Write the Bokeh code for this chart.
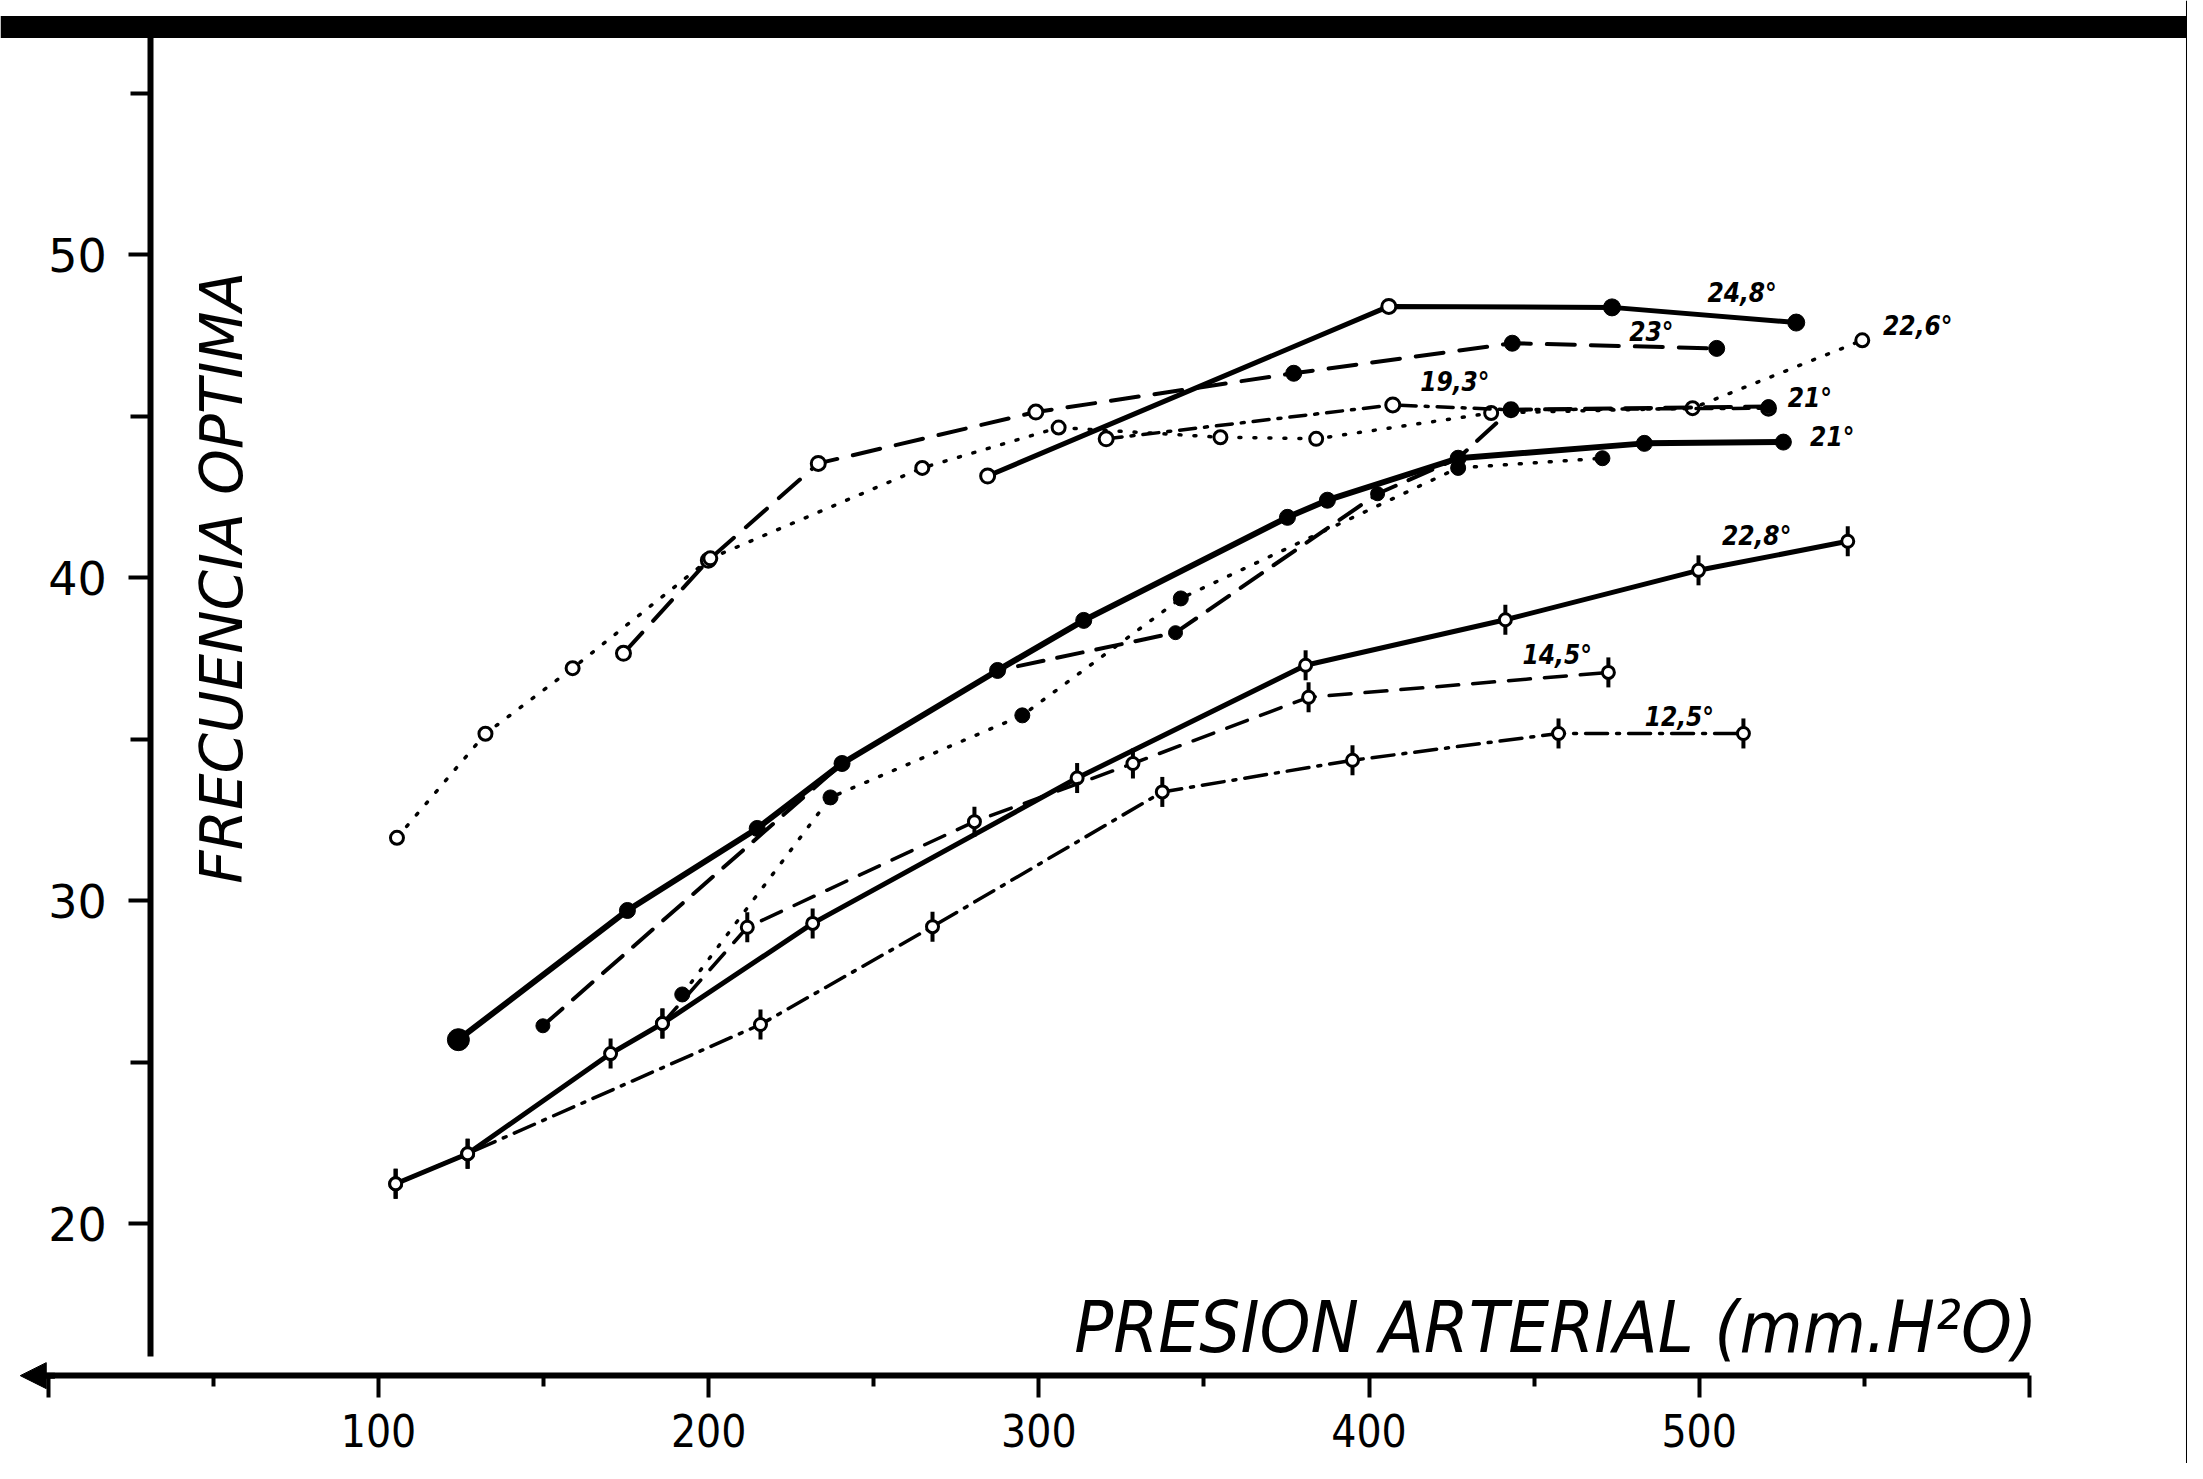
from bokeh.plotting import figure
from bokeh.models import (Range1d, LinearAxis, FixedTicker, Label, Span, Arrow,
                          NormalHead, ColumnDataSource)
from bokeh.embed import file_html
from bokeh.resources import INLINE
from bokeh.core.properties import value

# ---------------- data ----------------
x_ticks_major = [0, 100, 200, 300, 400, 500, 600]
x_ticks_minor = [50, 150, 250, 350, 450, 550]
y_ticks_major = [20, 30, 40, 50]
y_ticks_minor = [25, 35, 45, 55]

s248_x = [284.5, 406.0, 473.6, 529.4]
s248_y = [43.15, 48.40, 48.37, 47.90]

s23_x = [174.2, 199.9, 233.2, 299.1, 377.2, 443.4, 505.3]
s23_y = [37.66, 40.54, 43.54, 45.13, 46.33, 47.26, 47.10]

s226_x = [105.6, 132.4, 158.8, 200.5, 264.7, 306.0, 355.0, 384.0, 437.0, 498.0, 549.4]
s226_y = [31.95, 35.17, 37.20, 40.60, 43.40, 44.65, 44.35, 44.30, 45.10, 45.25, 47.35]

s193_x = [320.4, 407.2, 443.0, 521.0]
s193_y = [44.30, 45.35, 45.20, 45.25]

s21a_x = [149.8, 240.4, 287.5, 341.4, 402.6, 427.0, 443.0, 521.0]
s21a_y = [26.13, 34.25, 37.13, 38.30, 42.60, 43.70, 45.20, 45.30]

s21b_x = [124.2, 175.4, 214.7, 240.4, 287.5, 313.6, 375.3, 387.4, 427.0, 483.4, 525.5]
s21b_y = [25.70, 29.70, 32.24, 34.25, 37.13, 38.68, 41.87, 42.40, 43.70, 44.16, 44.20]

sdot_x = [192.0, 236.9, 295.0, 343.0, 427.0, 470.7]
sdot_y = [27.10, 33.20, 35.74, 39.36, 43.40, 43.70]

s228_x = [105.2, 127.0, 170.3, 186.0, 231.5, 311.6, 380.8, 441.3, 499.8, 545.0]
s228_y = [21.24, 22.17, 25.27, 26.20, 29.30, 33.80, 37.29, 38.70, 40.23, 41.13]

s145_x = [186.0, 211.7, 280.5, 328.5, 381.7, 472.5]
s145_y = [26.20, 29.18, 32.45, 34.25, 36.30, 37.07]

s125_x = [105.2, 127.0, 215.7, 267.8, 337.4, 395.0, 457.4, 513.4]
s125_y = [21.24, 22.17, 26.17, 29.20, 33.37, 34.35, 35.18, 35.18]

series_labels = ["24,8°", "23°", "22,6°", "19,3°", "21°", "21°", "22,8°", "14,5°", "12,5°"]
label_x = [513.0, 485.5, 555.7, 426.0, 526.8, 533.6, 517.4, 457.0, 494.0]
label_y = [48.80, 47.60, 47.80, 46.05, 45.55, 44.35, 41.30, 37.60, 35.70]
label_align = ["center", "center", "left", "center", "left", "left", "center", "center", "center"]

x_title = "PRESION ARTERIAL (mm.H²O)"
y_title = "FRECUENCIA OPTIMA"

# ---------------- figure ----------------
p = figure(width=2187, height=1463, x_range=Range1d(-14.48, 647.9),
           y_range=Range1d(12.58, 57.87), output_backend="svg",
           toolbar_location=None, x_axis_location=None, y_axis_location=None,
           min_border=0, min_border_left=0, min_border_right=0,
           min_border_top=0, min_border_bottom=0)
p.outline_line_color = None
p.background_fill_color = "white"
p.border_fill_color = "white"
p.xgrid.visible = False
p.ygrid.visible = False
for g in p.grid:
    g.visible = False

X_AXIS_AT = 15.3
Y_AXIS_AT = 31.0

xaxis = LinearAxis(fixed_location=X_AXIS_AT, bounds=(-6, 600),
                   ticker=FixedTicker(ticks=x_ticks_major, minor_ticks=x_ticks_minor))
xaxis.axis_line_width = 6
xaxis.axis_line_color = "black"
xaxis.major_tick_line_width = 4
xaxis.minor_tick_line_width = 4
xaxis.major_tick_out = 22
xaxis.major_tick_in = 0
xaxis.minor_tick_out = 11
xaxis.minor_tick_in = 0
xaxis.major_label_overrides = {0: "", 600: ""}
xaxis.major_label_text_font = "DejaVu Sans Condensed"
xaxis.major_label_text_font_size = "44px"
xaxis.major_label_text_color = "black"
xaxis.major_label_standoff = 16
p.add_layout(xaxis, "below")

yaxis = LinearAxis(fixed_location=Y_AXIS_AT, bounds=(15.9, 56.8),
                   ticker=FixedTicker(ticks=y_ticks_major, minor_ticks=y_ticks_minor))
yaxis.axis_line_width = 6
yaxis.axis_line_color = "black"
yaxis.major_tick_line_width = 4
yaxis.minor_tick_line_width = 4
yaxis.major_tick_out = 22
yaxis.major_tick_in = 0
yaxis.minor_tick_out = 20
yaxis.minor_tick_in = 0
yaxis.major_label_text_font = "DejaVu Sans"
yaxis.major_label_text_font_size = "46px"
yaxis.major_label_text_color = "black"
yaxis.major_label_standoff = 22
p.add_layout(yaxis, "left")

# frame of the scanned page
p.add_layout(Span(location=57.05, dimension="width", line_color="black", line_width=22))
p.add_layout(Span(location=648.2, dimension="height", line_color="black", line_width=5))
p.add_layout(Arrow(end=NormalHead(size=26, fill_color="black", line_color="black"),
                   x_start=2, y_start=X_AXIS_AT, x_end=-8.5, y_end=X_AXIS_AT,
                   line_width=6, line_color="black"))

K = "black"

def line(xs, ys, width, dash="solid"):
    p.line(xs, ys, line_color=K, line_width=width, line_dash=dash, line_cap="round")

def open_c(xs, ys, size=14):
    p.scatter(xs, ys, marker="circle", size=size, fill_color="white",
              line_color=K, line_width=3)

def fill_c(xs, ys, size=15):
    p.scatter(xs, ys, marker="circle", size=size, fill_color=K, line_color=K)

def phi(xs, ys):
    p.scatter(xs, ys, marker="dash", angle=1.5708, size=30, line_color=K, line_width=4)
    p.scatter(xs, ys, marker="circle", size=12, fill_color="white", line_color=K, line_width=3)

# 24,8
line(s248_x, s248_y, 5)
open_c(s248_x[:2], s248_y[:2])
fill_c(s248_x[2:], s248_y[2:], 17)
# 23
line(s23_x, s23_y, 4, "28 16")
open_c(s23_x[:4], s23_y[:4])
fill_c(s23_x[4:], s23_y[4:], 16)
# 22,6
line(s226_x, s226_y, 3.5, "2 13")
open_c(s226_x, s226_y, 13)
# 19,3
line(s193_x, s193_y, 3.5, "16 9 3 9")
open_c(s193_x, s193_y, 14)
# 21 (dashed)
line(s21a_x, s21a_y, 4, "26 14")
fill_c(s21a_x, s21a_y, 14)
# 21 (solid)
line(s21b_x, s21b_y, 6)
fill_c(s21b_x, s21b_y, 16)
fill_c(s21b_x[:1], s21b_y[:1], 22)
# dotted, filled points
line(sdot_x, sdot_y, 3.5, "2 13")
fill_c(sdot_x, sdot_y, 15)
# 22,8
line(s228_x, s228_y, 5)
phi(s228_x, s228_y)
# 14,5
line(s145_x, s145_y, 3.5, "22 14")
phi(s145_x, s145_y)
# 12,5
line(s125_x, s125_y, 3.5, "22 9 3 9")
phi(s125_x, s125_y)

lab_src = ColumnDataSource(dict(x=label_x, y=label_y, t=series_labels, a=label_align))
p.text(x="x", y="y", text="t", text_align="a", text_baseline="middle", source=lab_src,
       text_font=value("DejaVu Sans Condensed"), text_font_size="26px",
       text_font_style="bold italic", text_color=K)

p.add_layout(Label(x=602.4, y=16.8, text=x_title, text_align="right",
                   text_baseline="alphabetic",
                   text_font="DejaVu Sans Condensed", text_font_size="72px",
                   text_font_style="italic", text_color=K))
p.add_layout(Label(x=52.5, y=40.0, text=y_title, angle=1.5708, text_align="center",
                   text_baseline="middle", text_font="DejaVu Sans",
                   text_font_size="58px", text_font_style="italic", text_color=K))

open("out.html", "w").write(file_html(p, INLINE))
